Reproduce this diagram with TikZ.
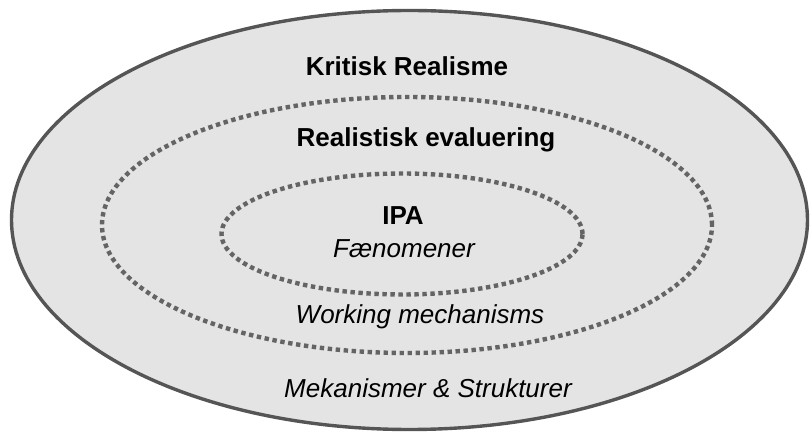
\documentclass[tikz,border=0pt]{standalone}
\usepackage{fontspec}
\setmainfont{Liberation Sans}
\usetikzlibrary{shapes.geometric}
\definecolor{ringfill}{HTML}{E4E4E4}
\definecolor{ringline}{HTML}{555555}
\definecolor{dotline}{HTML}{646464}
\tikzset{
  ring/.style={ellipse, inner sep=0pt, outer sep=0pt},
  outerring/.style={ring, draw=ringline, fill=ringfill, line width=3.4pt},
  dotring/.style={ring, draw=dotline, line width=4.4pt, dash pattern=on 4.4pt off 3.6pt},
  heading/.style={font=\fontsize{26}{30}\selectfont\bfseries, inner sep=0pt},
  sublabel/.style={font=\fontsize{26}{30}\selectfont\itshape, inner sep=0pt},
}
\begin{document}
\begin{tikzpicture}[x=1pt, y=-1pt]
  \useasboundingbox (0,0) rectangle (811,435);
  % nested layers
  \node[outerring, minimum width=796pt, minimum height=419pt] (kr) at (409.5,220) {};
  \node[dotring, minimum width=610pt, minimum height=256pt] (re) at (407,225) {};
  \node[dotring, minimum width=361pt, minimum height=121pt] (ipa) at (402,234) {};
  % labels
  \node[heading] (krlabel) at (407,66) {Kritisk Realisme};
  \node[heading] (relabel) at (426,140) {Realistisk evaluering};
  \node[heading] (ipalabel) at (403,216) {IPA};
  \node[sublabel] (fen) at (404,249) {Fænomener};
  \node[sublabel] (wm) at (420,317) {Working mechanisms};
  \node[sublabel] (ms) at (428,388) {Mekanismer \& Strukturer};
\end{tikzpicture}
\end{document}
